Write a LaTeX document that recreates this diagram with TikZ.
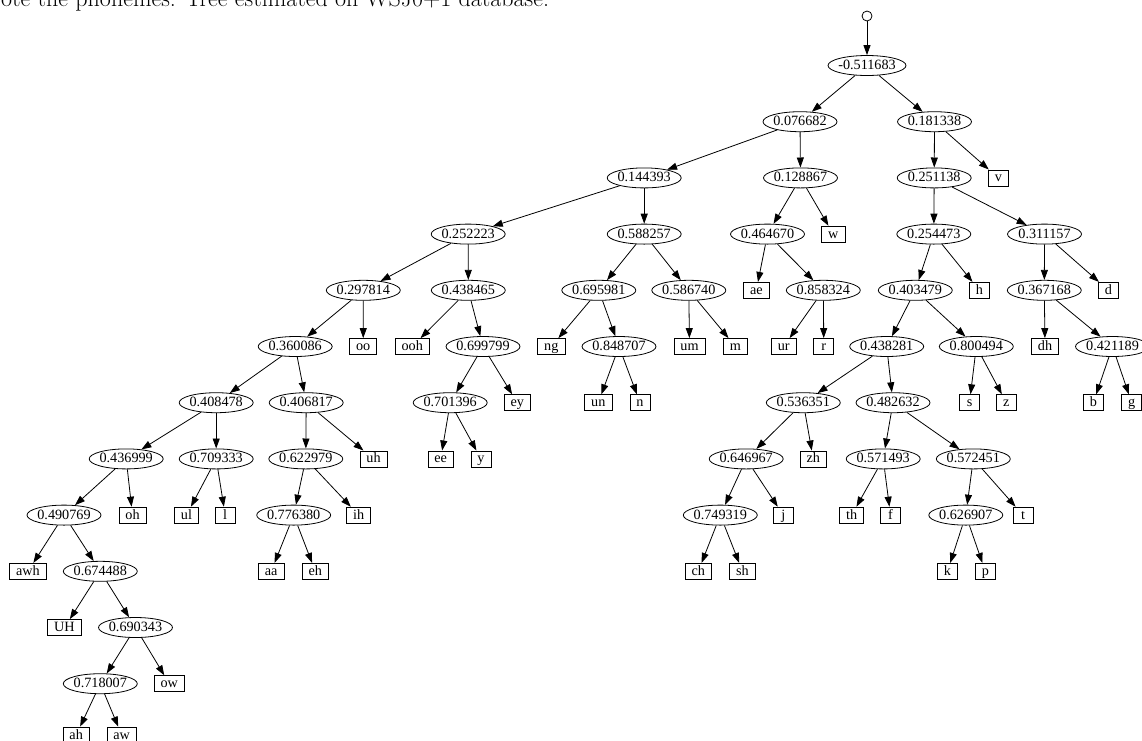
\documentclass[tikz,border=0pt]{standalone}
\usepackage{fontspec}
\newfontfamily\tfont{Liberation Serif}
\usetikzlibrary{shapes.geometric,arrows.meta}
\begin{document}
\begin{tikzpicture}[x=1pt,y=-1pt,
  inode/.style={ellipse, draw, line width=0.8pt, minimum width=74pt, minimum height=20pt,
    inner xsep=-5pt, inner ysep=-2pt, font=\tfont\fontsize{14.2}{16}\selectfont,
    text height=9.4pt, text depth=1.4pt},
  leaf/.style={rectangle, draw, line width=0.8pt, minimum width=20pt, minimum height=16pt,
    inner xsep=6.5pt, inner ysep=0pt, font=\tfont\fontsize{14.2}{16}\selectfont,
    text height=9.4pt, text depth=1.4pt},
  edge/.style={-{Triangle[length=10pt,width=7pt]}, line width=0.8pt},
  startnode/.style={circle, draw, line width=0.8pt, minimum size=10pt, inner sep=0pt}]
\useasboundingbox (0,0) rectangle (1142,740);
\node[anchor=base west, inner sep=0pt, font=\fontsize{24}{28}\selectfont] (caption) at (1,6)
  {ote the phonemes. Tree estimated on WSJ0+1 database.};
\node[startnode] (start) at (867,16) {};
% L0
\node[inode, minimum width=78pt] (e511683) at (867,65.5) {-0.511683};
% L1
\node[inode] (e076682) at (800,121.7) {0.076682};
\node[inode] (e181338) at (934.5,121.7) {0.181338};
% L2
\node[inode] (e144393) at (644.2,177.9) {0.144393};
\node[inode] (e128867) at (800.5,177.9) {0.128867};
\node[inode] (e251138) at (934.2,177.9) {0.251138};
\node[leaf] (lv) at (998.3,177.9) {v};
% L3
\node[inode] (e252223) at (468.2,234.1) {0.252223};
\node[inode] (e588257) at (644.2,234.1) {0.588257};
\node[inode] (e464670) at (767.5,234.1) {0.464670};
\node[leaf] (lw) at (833.3,234.1) {w};
\node[inode] (e254473) at (933.8,234.1) {0.254473};
\node[inode] (e311157) at (1044.5,234.1) {0.311157};
% L4
\node[inode] (e297814) at (363.3,290.3) {0.297814};
\node[inode] (e438465) at (468.3,290.3) {0.438465};
\node[inode] (e695981) at (598.8,290.3) {0.695981};
\node[inode] (e586740) at (688.8,290.3) {0.586740};
\node[leaf] (lae) at (756.3,290.3) {ae};
\node[inode] (e858324) at (823.3,290.3) {0.858324};
\node[inode] (e403479) at (915.3,290.3) {0.403479};
\node[leaf] (lh) at (979.3,290.3) {h};
\node[inode] (e367168) at (1044.3,290.3) {0.367168};
\node[leaf] (ld) at (1108.5,290.3) {d};
% L5
\node[inode] (e360086) at (295.2,346.5) {0.360086};
\node[leaf] (loo) at (363.2,346.5) {oo};
\node[leaf] (looh) at (412.2,346.5) {ooh};
\node[inode] (e699799) at (483,346.5) {0.699799};
\node[leaf] (lng) at (551.3,346.5) {ng};
\node[inode] (e848707) at (619,346.5) {0.848707};
\node[leaf] (lum) at (689.5,346.5) {um};
\node[leaf] (lm) at (735.5,346.5) {m};
\node[leaf] (lur) at (783.7,346.5) {ur};
\node[leaf] (lr) at (823.8,346.5) {r};
\node[inode] (e438281) at (886.7,346.5) {0.438281};
\node[inode] (e800494) at (976.3,346.5) {0.800494};
\node[leaf] (ldh) at (1045,346.5) {dh};
\node[inode] (e421189) at (1112.5,346.5) {0.421189};
% L6
\node[inode] (e408478) at (216.2,402.7) {0.408478};
\node[inode] (e406817) at (306.2,402.7) {0.406817};
\node[inode] (e701396) at (450.2,402.7) {0.701396};
\node[leaf] (ley) at (517.2,402.7) {ey};
\node[leaf] (lun) at (598.3,402.7) {un};
\node[leaf] (ln) at (640,402.7) {n};
\node[inode] (e536351) at (803.3,402.7) {0.536351};
\node[inode] (e482632) at (893,402.7) {0.482632};
\node[leaf] (ls) at (969.5,402.7) {s};
\node[leaf] (lz) at (1006.3,402.7) {z};
\node[leaf] (lb) at (1093.3,402.7) {b};
\node[leaf] (lg) at (1131.7,402.7) {g};
% L7
\node[inode] (e436999) at (126.2,458.9) {0.436999};
\node[inode] (e709333) at (216.2,458.9) {0.709333};
\node[inode] (e622979) at (305.8,458.9) {0.622979};
\node[leaf] (luh) at (373.5,458.9) {uh};
\node[leaf] (lee) at (440.7,458.9) {ee};
\node[leaf] (ly) at (481,458.9) {y};
\node[inode] (e646967) at (746.2,458.9) {0.646967};
\node[leaf] (lzh) at (813.2,458.9) {zh};
\node[inode] (e571493) at (883.2,458.9) {0.571493};
\node[inode] (e572451) at (973.3,458.9) {0.572451};
% L8
\node[inode] (e490769) at (64,515.1) {0.490769};
\node[leaf] (loh) at (132.5,515.1) {oh};
\node[leaf] (lul) at (186.5,515.1) {ul};
\node[leaf] (ll) at (225.2,515.1) {l};
\node[inode] (e776380) at (293.7,515.1) {0.776380};
\node[leaf] (lih) at (358.7,515.1) {ih};
\node[inode] (e749319) at (720.3,515.1) {0.749319};
\node[leaf] (lj) at (783.3,515.1) {j};
\node[leaf] (lth) at (851.7,515.1) {th};
\node[leaf] (lf) at (890.5,515.1) {f};
\node[inode] (e626907) at (965.8,515.1) {0.626907};
\node[leaf] (lt) at (1023,515.1) {t};
% L9
\node[leaf] (lawh) at (28,571.3) {awh};
\node[inode] (e674488) at (100.3,571.3) {0.674488};
\node[leaf] (laa) at (271.2,571.3) {aa};
\node[leaf] (leh) at (315.3,571.3) {eh};
\node[leaf] (lch) at (698.3,571.3) {ch};
\node[leaf] (lsh) at (742.5,571.3) {sh};
\node[leaf] (lk) at (947.5,571.3) {k};
\node[leaf] (lp) at (985.3,571.3) {p};
% L10
\node[leaf] (lUH) at (64.5,627.5) {UH};
\node[inode] (e690343) at (135.5,627.5) {0.690343};
% L11
\node[inode] (e718007) at (100.3,683.7) {0.718007};
\node[leaf] (low) at (169.3,683.7) {ow};
% L12
\node[leaf] (lah) at (76.2,735) {ah};
\node[leaf] (law) at (121.7,735) {aw};
% edges
\foreach \p/\c in {start/e511683,
  e511683/e076682, e511683/e181338,
  e076682/e144393, e076682/e128867,
  e181338/e251138, e181338/lv,
  e144393/e252223, e144393/e588257,
  e128867/e464670, e128867/lw,
  e251138/e254473, e251138/e311157,
  e252223/e297814, e252223/e438465,
  e588257/e695981, e588257/e586740,
  e464670/lae, e464670/e858324,
  e254473/e403479, e254473/lh,
  e311157/e367168, e311157/ld,
  e297814/e360086, e297814/loo,
  e438465/looh, e438465/e699799,
  e695981/lng, e695981/e848707,
  e586740/lum, e586740/lm,
  e858324/lur, e858324/lr,
  e403479/e438281, e403479/e800494,
  e367168/ldh, e367168/e421189,
  e360086/e408478, e360086/e406817,
  e699799/e701396, e699799/ley,
  e848707/lun, e848707/ln,
  e438281/e536351, e438281/e482632,
  e800494/ls, e800494/lz,
  e421189/lb, e421189/lg,
  e408478/e436999, e408478/e709333,
  e406817/e622979, e406817/luh,
  e701396/lee, e701396/ly,
  e536351/e646967, e536351/lzh,
  e482632/e571493, e482632/e572451,
  e436999/e490769, e436999/loh,
  e709333/lul, e709333/ll,
  e622979/e776380, e622979/lih,
  e646967/e749319, e646967/lj,
  e571493/lth, e571493/lf,
  e572451/e626907, e572451/lt,
  e490769/lawh, e490769/e674488,
  e776380/laa, e776380/leh,
  e749319/lch, e749319/lsh,
  e626907/lk, e626907/lp,
  e674488/lUH, e674488/e690343,
  e690343/e718007, e690343/low,
  e718007/lah, e718007/law}
  \draw[edge] (\p) -- (\c);
\end{tikzpicture}
\end{document}
